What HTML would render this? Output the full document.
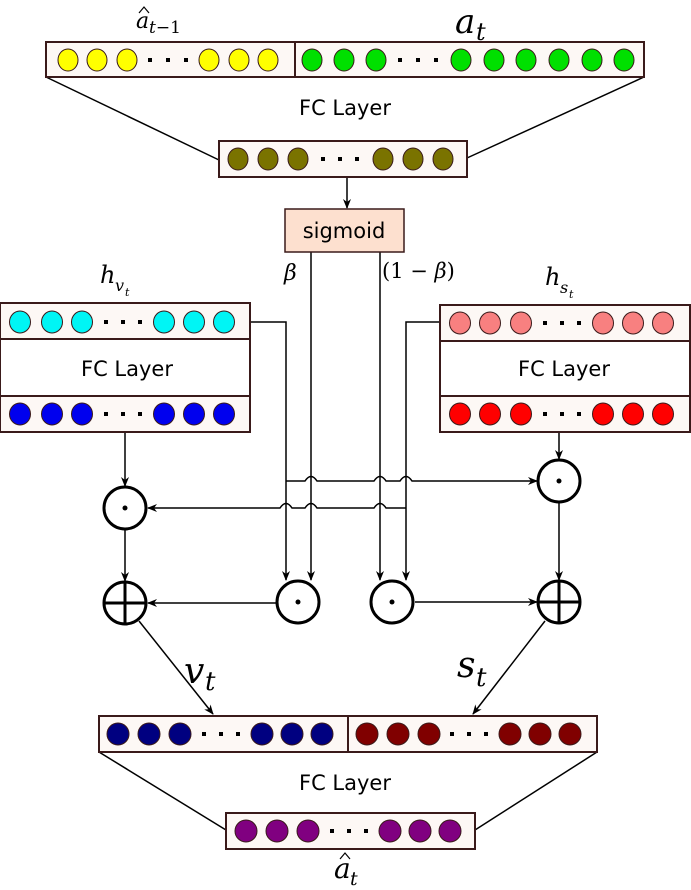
<!DOCTYPE html>
<html><head><meta charset="utf-8"><style>
html,body{margin:0;padding:0;background:#fff;}
svg{display:block;}
.t{font-family:"DejaVu Sans","Liberation Sans",sans-serif;fill:#000;}
.m{font-family:"DejaVu Serif","Liberation Serif",serif;font-style:italic;fill:#000;}
.r{font-family:"DejaVu Serif","Liberation Serif",serif;fill:#000;}
</style></head><body>
<svg width="691" height="890" viewBox="0 0 691 890" xmlns="http://www.w3.org/2000/svg">
<defs>
<marker id="a" markerWidth="10" markerHeight="10" refX="9" refY="5" orient="auto" markerUnits="userSpaceOnUse">
<path d="M0,1 L10,5 L0,9 L3,5 z" fill="#000"/></marker>
</defs>
<g stroke="#000" stroke-width="1.5" fill="none">
<line x1="46" y1="77" x2="219" y2="160"/>
<line x1="644" y1="77" x2="467" y2="158"/>
<line x1="99" y1="752" x2="226" y2="830"/>
<line x1="597" y1="752" x2="475" y2="830"/>
<line x1="347" y1="177" x2="347" y2="208" marker-end="url(#a)"/>
<line x1="311" y1="252" x2="311" y2="580" marker-end="url(#a)"/>
<line x1="380" y1="252" x2="380" y2="580" marker-end="url(#a)"/>
<polyline points="250,322 286,322 286,580" marker-end="url(#a)"/>
<polyline points="440,322 406,322 406,580" marker-end="url(#a)"/>
<path d="M286,481 L305,481 Q311,472 317,481 L374,481 Q380,472 386,481 L400,481 Q406,472 412,481 L537,481" marker-end="url(#a)"/>
<path d="M406,508 L386,508 Q380,499 374,508 L317,508 Q311,499 305,508 L292,508 Q286,499 280,508 L148,508" marker-end="url(#a)"/>
<line x1="125" y1="432" x2="125" y2="486" marker-end="url(#a)"/>
<line x1="125" y1="529" x2="125" y2="581" marker-end="url(#a)"/>
<line x1="559" y1="432" x2="559" y2="459" marker-end="url(#a)"/>
<line x1="559" y1="502" x2="559" y2="580" marker-end="url(#a)"/>
<line x1="277" y1="603" x2="148" y2="603" marker-end="url(#a)"/>
<line x1="415" y1="602" x2="537" y2="602" marker-end="url(#a)"/>
<line x1="139" y1="621" x2="213" y2="714" marker-end="url(#a)"/>
<line x1="545" y1="621" x2="473" y2="714" marker-end="url(#a)"/>
</g>
<g stroke="#000" stroke-width="3" fill="#fff">
<ellipse cx="125" cy="508" rx="21" ry="21"/>
<ellipse cx="125" cy="603" rx="21" ry="21"/>
<ellipse cx="298" cy="602" rx="21" ry="21"/>
<ellipse cx="392" cy="602" rx="21" ry="21"/>
<ellipse cx="559" cy="481" rx="21" ry="21"/>
<ellipse cx="559" cy="602" rx="21" ry="21"/>
<line x1="104" y1="603" x2="146" y2="603"/><line x1="125" y1="582" x2="125" y2="624"/>
<line x1="538" y1="602" x2="580" y2="602"/><line x1="559" y1="581" x2="559" y2="623"/>
</g>
<g fill="#000">
<circle cx="125" cy="508" r="2.5"/><circle cx="298" cy="602" r="2.5"/><circle cx="392" cy="602" r="2.5"/><circle cx="559" cy="481" r="2.5"/>
</g>
<g stroke="#3a1a1a" stroke-width="2" fill="#fdf8f5">
<rect x="46" y="42" width="598" height="35"/>
<rect x="219" y="141" width="248" height="36"/>
<rect x="0" y="303" width="250" height="129" fill="#fff"/>
<rect x="0" y="303" width="250" height="36"/>
<rect x="0" y="396" width="250" height="36"/>
<rect x="440" y="305" width="250" height="127" fill="#fff"/>
<rect x="440" y="305" width="250" height="36"/>
<rect x="440" y="396" width="250" height="36"/>
<rect x="99" y="716" width="498" height="36"/>
<rect x="226" y="813" width="249" height="36"/>
<line x1="295" y1="42" x2="295" y2="77"/>
<line x1="348" y1="716" x2="348" y2="752"/>
</g>
<rect x="285" y="209" width="119" height="43" fill="#fde0cf" stroke="#3a1a1a" stroke-width="1.5"/>
<text x="344" y="238" class="t" font-size="21" text-anchor="middle">sigmoid</text>
<g stroke="#3a1a1a" stroke-width="1">
<g fill="#ffff00"><ellipse cx="68" cy="60" rx="10" ry="11"/><ellipse cx="97" cy="60" rx="10" ry="11"/><ellipse cx="127" cy="60" rx="10" ry="11"/><ellipse cx="209" cy="60" rx="10" ry="11"/><ellipse cx="239" cy="60" rx="10" ry="11"/><ellipse cx="268" cy="60" rx="10" ry="11"/></g>
<g fill="#00e000"><ellipse cx="312" cy="60" rx="10" ry="11"/><ellipse cx="344" cy="60" rx="10" ry="11"/><ellipse cx="376" cy="60" rx="10" ry="11"/><ellipse cx="461" cy="60" rx="10" ry="11"/><ellipse cx="494" cy="60" rx="10" ry="11"/><ellipse cx="526" cy="60" rx="10" ry="11"/><ellipse cx="559" cy="60" rx="10" ry="11"/><ellipse cx="592" cy="60" rx="10" ry="11"/><ellipse cx="624" cy="60" rx="10" ry="11"/></g>
<g fill="#7a7300"><ellipse cx="238" cy="159" rx="10" ry="11"/><ellipse cx="268" cy="159" rx="10" ry="11"/><ellipse cx="298" cy="159" rx="10" ry="11"/><ellipse cx="383" cy="159" rx="10" ry="11"/><ellipse cx="413" cy="159" rx="10" ry="11"/><ellipse cx="443" cy="159" rx="10" ry="11"/></g>
<g fill="#00f5f5"><ellipse cx="20" cy="322" rx="10.5" ry="11"/><ellipse cx="52" cy="322" rx="10.5" ry="11"/><ellipse cx="82" cy="322" rx="10.5" ry="11"/><ellipse cx="164" cy="322" rx="10.5" ry="11"/><ellipse cx="194" cy="322" rx="10.5" ry="11"/><ellipse cx="224" cy="322" rx="10.5" ry="11"/></g>
<g fill="#0000ee"><ellipse cx="20" cy="414" rx="10.5" ry="11"/><ellipse cx="52" cy="414" rx="10.5" ry="11"/><ellipse cx="82" cy="414" rx="10.5" ry="11"/><ellipse cx="164" cy="414" rx="10.5" ry="11"/><ellipse cx="194" cy="414" rx="10.5" ry="11"/><ellipse cx="224" cy="414" rx="10.5" ry="11"/></g>
<g fill="#f88080"><ellipse cx="460" cy="323" rx="10.5" ry="11"/><ellipse cx="490" cy="323" rx="10.5" ry="11"/><ellipse cx="521" cy="323" rx="10.5" ry="11"/><ellipse cx="603" cy="323" rx="10.5" ry="11"/><ellipse cx="633" cy="323" rx="10.5" ry="11"/><ellipse cx="663" cy="323" rx="10.5" ry="11"/></g>
<g fill="#ff0000"><ellipse cx="460" cy="414" rx="10.5" ry="11"/><ellipse cx="490" cy="414" rx="10.5" ry="11"/><ellipse cx="521" cy="414" rx="10.5" ry="11"/><ellipse cx="603" cy="414" rx="10.5" ry="11"/><ellipse cx="633" cy="414" rx="10.5" ry="11"/><ellipse cx="663" cy="414" rx="10.5" ry="11"/></g>
<g fill="#000080"><circle cx="118" cy="734" r="11"/><circle cx="149" cy="734" r="11"/><circle cx="180" cy="734" r="11"/><circle cx="262" cy="734" r="11"/><circle cx="292" cy="734" r="11"/><circle cx="322" cy="734" r="11"/></g>
<g fill="#800000"><circle cx="367" cy="734" r="11"/><circle cx="398" cy="734" r="11"/><circle cx="429" cy="734" r="11"/><circle cx="510" cy="734" r="11"/><circle cx="540" cy="734" r="11"/><circle cx="570" cy="734" r="11"/></g>
<g fill="#800080"><circle cx="246" cy="831" r="11"/><circle cx="277" cy="831" r="11"/><circle cx="308" cy="831" r="11"/><circle cx="390" cy="831" r="11"/><circle cx="420" cy="831" r="11"/><circle cx="450" cy="831" r="11"/></g>
</g>
<g fill="#000">
<rect x="148" y="58" width="4" height="4"/><rect x="166" y="58" width="4" height="4"/><rect x="184" y="58" width="4" height="4"/>
<rect x="398" y="58" width="4" height="4"/><rect x="416" y="58" width="4" height="4"/><rect x="434" y="58" width="4" height="4"/>
<rect x="321" y="157" width="4" height="4"/><rect x="338" y="157" width="4" height="4"/><rect x="355" y="157" width="4" height="4"/>
<rect x="104" y="320" width="4" height="4"/><rect x="121" y="320" width="4" height="4"/><rect x="138" y="320" width="4" height="4"/>
<rect x="104" y="412" width="4" height="4"/><rect x="121" y="412" width="4" height="4"/><rect x="138" y="412" width="4" height="4"/>
<rect x="543" y="321" width="4" height="4"/><rect x="560" y="321" width="4" height="4"/><rect x="577" y="321" width="4" height="4"/>
<rect x="543" y="412" width="4" height="4"/><rect x="560" y="412" width="4" height="4"/><rect x="577" y="412" width="4" height="4"/>
<rect x="202" y="732" width="4" height="4"/><rect x="219" y="732" width="4" height="4"/><rect x="236" y="732" width="4" height="4"/>
<rect x="450" y="732" width="4" height="4"/><rect x="467" y="732" width="4" height="4"/><rect x="484" y="732" width="4" height="4"/>
<rect x="330" y="829" width="4" height="4"/><rect x="347" y="829" width="4" height="4"/><rect x="364" y="829" width="4" height="4"/>
</g>
<text x="345" y="115" class="t" font-size="21" text-anchor="middle">FC Layer</text>
<text x="127" y="376" class="t" font-size="21" text-anchor="middle">FC Layer</text>
<text x="564" y="376" class="t" font-size="21" text-anchor="middle">FC Layer</text>
<text x="345" y="790" class="t" font-size="21" text-anchor="middle">FC Layer</text>
<g stroke="#000" stroke-width="1.2" fill="none">
<polyline points="139,13 144,7 149,13"/>
<polyline points="340,859 345,853 350,859"/>
</g>
<text x="136" y="28" class="m" font-size="22">a</text>
<text x="149" y="33" class="m" font-size="17">t<tspan class="r" font-style="normal">−1</tspan></text>
<text x="455" y="33" class="m" font-size="34">a</text><text x="476" y="40" class="m" font-size="24">t</text>
<text x="284" y="280" class="m" font-size="22">β</text>
<text x="382" y="278" class="r" font-size="21">(1 − <tspan font-style="italic">β</tspan>)</text>
<text x="100" y="283" class="m" font-size="24">h</text><text x="115" y="291" class="m" font-size="16">v</text><text x="125" y="296" class="m" font-size="11">t</text>
<text x="545" y="285" class="m" font-size="24">h</text><text x="560" y="293" class="m" font-size="16">s</text><text x="569" y="298" class="m" font-size="11">t</text>
<text x="184" y="683" class="m" font-size="36">v</text><text x="205" y="690" class="m" font-size="26">t</text>
<text x="457" y="677" class="m" font-size="36">s</text><text x="476" y="686" class="m" font-size="26">t</text>
<text x="334" y="878" class="m" font-size="28">a</text><text x="350" y="885" class="m" font-size="19">t</text>
</svg>
</body></html>
